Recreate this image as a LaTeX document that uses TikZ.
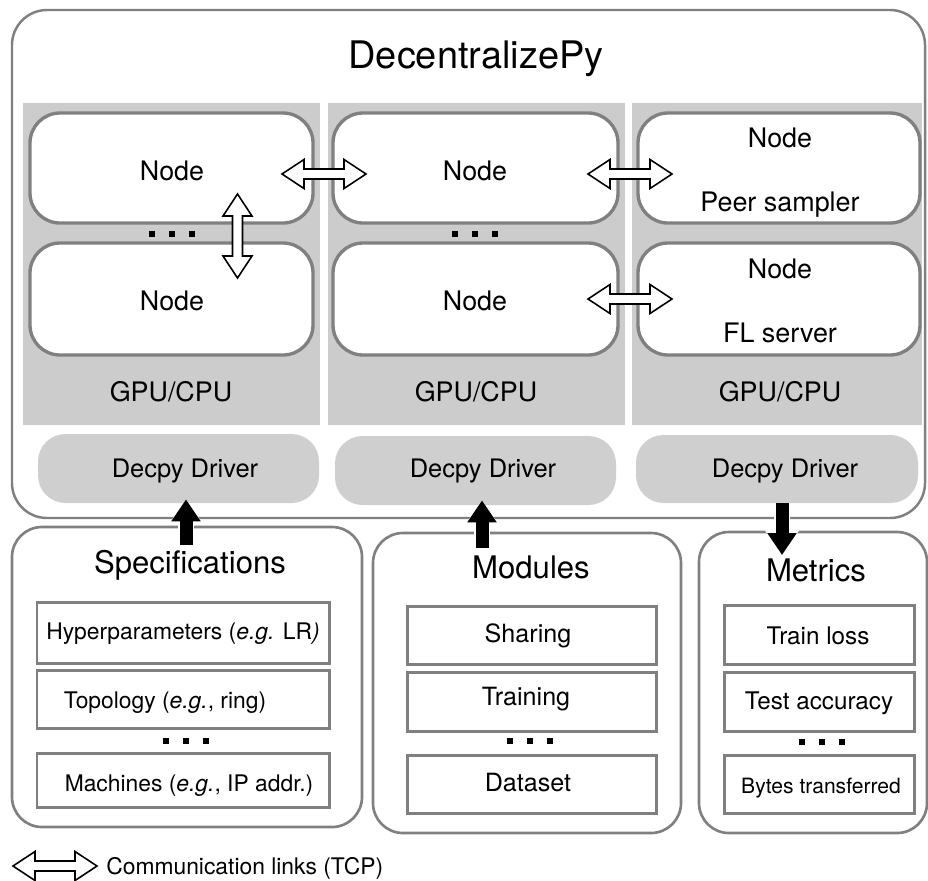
\documentclass[tikz,border=0pt]{standalone}
\usepackage{fontspec}
\setmainfont{TeX Gyre Heros}
\usetikzlibrary{fit,calc,arrows.meta}
\tikzset{outerbox/.style={draw=black!50,line width=1.4pt,rounded corners=0.7cm,inner sep=0pt},
colbox/.style={fill=black!20,inner sep=0pt},
nodebox/.style={draw=black!50,fill=white,line width=1.9pt,rounded corners=0.6cm,inner sep=0pt},
drvbox/.style={fill=black!19,rounded corners=0.55cm,inner sep=0pt},
grpbox/.style={draw=black!50,line width=1.5pt,rounded corners=0.6cm,inner sep=0pt},
itembox/.style={draw=black!50,line width=1.7pt,inner sep=0pt},
lbl/.style={anchor=base,inner sep=0pt,font=\fontsize{15.3}{18}\selectfont},
grplbl/.style={lbl,font=\fontsize{17.7}{21}\selectfont},
itemlbl/.style={lbl,font=\fontsize{13}{16}\selectfont},
bigarrow/.style={line width=0.26cm,-{Triangle[width=0.56cm,length=0.44cm]},
  preaction={draw=white,line width=0.32cm,-{Triangle[width=0.66cm,length=0.5cm]}}},
pics/link/.style={code={\draw[fill=white,line width=0.9pt,line join=miter] (-42,0)--(-20,-14.5)--(-20,-5)--(20,-5)--(20,-14.5)--(42,0)--(20,14.5)--(20,5)--(-20,5)--(-20,14.5)--cycle;}},
pics/dots/.style={code={\foreach \i in {-20,0,20} \fill (\i-3.3,-3.3) rectangle (\i+3.3,3.3);}}}

\begin{document}
\begin{tikzpicture}[x=0.02cm,y=-0.02cm]
\useasboundingbox (0,0) rectangle (928,880);
% DecentralizePy frame
\node[outerbox,fit={(12,10) (925,518)}] (frame) {};
\node[lbl,font=\fontsize{21.6}{26}\selectfont] (title) at (476,68) {DecentralizePy};

\node[colbox,fit={(23,103) (320,425)}] (col1) {};
\node[colbox,fit={(328,103) (625,425)}] (col2) {};
\node[colbox,fit={(632,103) (922,425)}] (col3) {};

\node[nodebox,fit={(30,113) (313,223)}] (n11) {};
\node[nodebox,fit={(30,243) (313,355)}] (n12) {};
\node[nodebox,fit={(333,113) (618,223)}] (n21) {};
\node[nodebox,fit={(333,243) (618,355)}] (n22) {};
\node[nodebox,fit={(638,113) (920,223)}] (n31) {};
\node[nodebox,fit={(638,243) (920,355)}] (n32) {};

\node[lbl] (t11) at (172,180) {Node};
\node[lbl] (t12) at (172,310) {Node};
\node[lbl] (t21) at (475,180) {Node};
\node[lbl] (t22) at (475,310) {Node};
\node[lbl] (t31) at (780,147) {Node};
\node[lbl] (t31b) at (780,211) {Peer sampler};
\node[lbl] (t32) at (780,278) {Node};
\node[lbl] (t32b) at (780,342) {FL server};
\node[lbl] (hw1) at (171,401) {GPU/CPU};
\node[lbl] (hw2) at (476,401) {GPU/CPU};
\node[lbl] (hw3) at (780,401) {GPU/CPU};

\node[drvbox,fit={(38,434) (319,503)}] (drv1) {};
\node[drvbox,fit={(335,436) (616,505)}] (drv2) {};
\node[drvbox,fit={(636,435) (918,503)}] (drv3) {};
\node[lbl,font=\fontsize{14.5}{17}\selectfont] (td1) at (185,477) {Decpy Driver};
\node[lbl,font=\fontsize{14.5}{17}\selectfont] (td2) at (483,477) {Decpy Driver};
\node[lbl,font=\fontsize{14.5}{17}\selectfont] (td3) at (785,477) {Decpy Driver};

% links between nodes
\pic at ($(n11.east)!0.5!(n21.west)+(1,6)$) {link};
\pic at ($(n21.east)!0.5!(n31.west)+(2,6)$) {link};
\pic at ($(n22.east)!0.5!(n32.west)+(2,0)$) {link};
\pic[rotate=90] at ($(n11.south)!0.5!(n12.north)+(66,3)$) {link};
\pic at (172,234) {dots};
\pic at (475,234) {dots};

% inputs and outputs
\node[grpbox,fit={(12,527) (362,827)}] (spec) {};
\node[grpbox,fit={(373,533) (681,833)}] (mods) {};
\node[grpbox,fit={(699,532) (927,833)}] (mets) {};
\node[grplbl] (tspec) at (190,573) {Specifications};
\node[grplbl] (tmods) at (531,578) {Modules};
\node[grplbl] (tmets) at (816,581) {Metrics};

\node[itembox,fit={(37,602) (329,663)}] (s1) {};
\node[itembox,fit={(37,670) (329,728)}] (s2) {};
\node[itembox,fit={(37,753) (329,807)}] (s3) {};
\node[itembox,fit={(407,606) (656,664)}] (m1) {};
\node[itembox,fit={(407,672) (656,731)}] (m2) {};
\node[itembox,fit={(407,755) (656,813)}] (m3) {};
\node[itembox,fit={(724,605) (914,664)}] (r1) {};
\node[itembox,fit={(724,672) (914,731)}] (r2) {};
\node[itembox,fit={(724,755) (914,813)}] (r3) {};

\node[itemlbl] (ts1) at (183,639) {Hyperparameters (\textit{e.g.} LR\textit{)}};
\node[itemlbl] (ts2) at (165,708) {Topology (\textit{e.g.}, ring)};
\node[itemlbl] (ts3) at (189,791) {Machines (\textit{e.g.}, IP addr.)};
\node[itemlbl,font=\fontsize{14.3}{17}\selectfont] (tm1) at (528,642) {Sharing};
\node[itemlbl,font=\fontsize{14.3}{17}\selectfont] (tm2) at (526,705) {Training};
\node[itemlbl,font=\fontsize{14.3}{17}\selectfont] (tm3) at (528,791) {Dataset};
\node[itemlbl,font=\fontsize{13.8}{17}\selectfont] (tr1) at (818,644) {Train loss};
\node[itemlbl,font=\fontsize{13.8}{17}\selectfont] (tr2) at (819,709) {Test accuracy};
\node[itemlbl,font=\fontsize{12}{14}\selectfont] (tr3) at (821,793) {Bytes transferred};
\pic at (186,741) {dots};
\pic at (530,741) {dots};
\pic at (822,742) {dots};

\coordinate (a1) at (186,545);
\coordinate (a2) at (482,548);
\coordinate (a3) at (782,555);
\draw[bigarrow] (a1)--([yshift=0.08cm]a1 |- drv1.south);
\draw[bigarrow] (a2)--([yshift=0.1cm]a2 |- drv2.south);
\draw[bigarrow] (a3 |- drv3.south)--(a3);

% legend
\pic at (55,866) {link};
\node[itemlbl,anchor=base west] (legend) at (106,874) {Communication links (TCP)};
\end{tikzpicture}
\end{document}
